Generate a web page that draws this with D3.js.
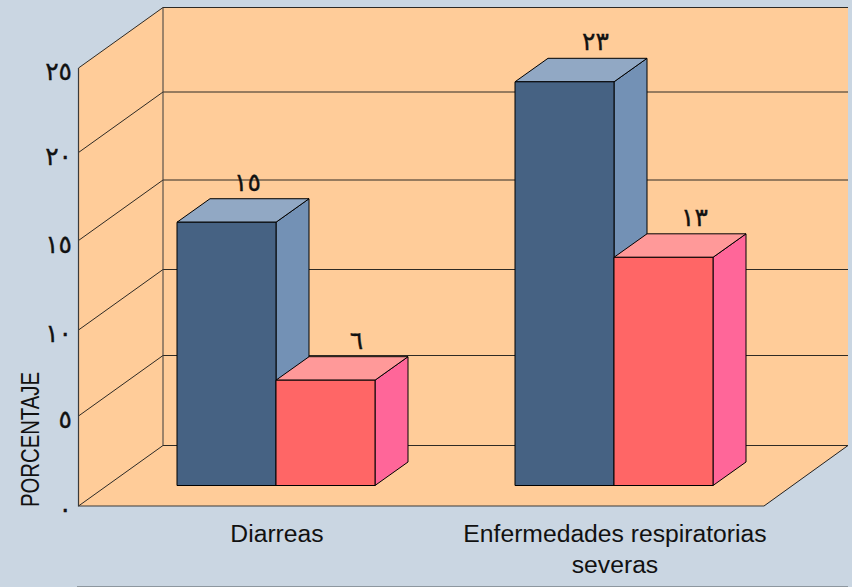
<!DOCTYPE html>
<meta charset="utf-8">
<head>
<style>
html, body { margin: 0; padding: 0; background: #cad6e2; }
svg { display: block; }
text { fill: #111; }
.cat { font-family: "Liberation Sans", sans-serif; font-size: 24.7px; }
.num { font-family: "DejaVu Sans", sans-serif; font-size: 25px; stroke: #111; stroke-width: 0.35px; }
</style>
</head>
<body>
<svg width="852" height="587"></svg>

<script src="https://d3js.org/d3.v7.min.js"></script>
<script>
var categories = ["Diarreas", "Enfermedades respiratorias"];
var categoryLines = [["Diarreas"], ["Enfermedades respiratorias", "severas"]];
var seriesNames = ["a", "b"];
var seriesA = [15, 23];
var seriesB = [6, 13];
var tickValues = [0, 5, 10, 15, 20, 25];
var tickLabels = ["٠", "٥", "١٠", "١٥", "٢٠", "٢٥"];
var valueLabels = [["١٥", "٦"], ["٢٣", "١٣"]];
var yTitle = "PORCENTAJE";

var svg = d3.select("svg");

var left = 78.5, right = 764, floorY = 506,
    depthX = 84.5, depthY = -60.5,       // floor depth of the box
    barDepthX = 33, barDepthY = -23.5,   // depth of one bar
    barInsetY = -20.5;                   // bar front sits a bit behind the front edge

// bars are on a straight scale
var y = d3.scaleLinear().domain([0, 25]).range([floorY, 67.2]);
// the gridlines in the picture are not quite evenly spaced
var gridY = d3.scaleLinear().domain(tickValues).range([506, 416, 330, 240.5, 152.5, 68]);

var x0 = d3.scaleBand().domain(categories).range([107, 783]);
var x1 = d3.scaleBand().domain(seriesNames).range([-99, 99]);

var line = d3.line();
function poly(g, pts, fill, stroke, w) {
  return g.append("path")
    .attr("d", line(pts) + "Z")
    .attr("fill", fill)
    .attr("stroke", stroke || "none")
    .attr("stroke-width", w || 1);
}

// walls and floor
var box = svg.append("g");
var wallFill = "#ffcc99";
poly(box, [[left + depthX, gridY(25) + depthY], [848, gridY(25) + depthY], [848, floorY + depthY], [left + depthX, floorY + depthY]], wallFill);
poly(box, [[left, gridY(25)], [left + depthX, gridY(25) + depthY], [left + depthX, floorY + depthY], [left, floorY]], wallFill);
poly(box, [[left, floorY], [left + depthX, floorY + depthY], [848, floorY + depthY], [right, floorY]], wallFill);

// gridlines
box.selectAll(".grid").data(tickValues).enter().append("path")
    .attr("class", "grid")
    .attr("fill", "none")
    .attr("stroke", "#2e2a24")
    .attr("stroke-width", 1)
    .attr("d", function(d) {
      return line([[left, gridY(d)], [left + depthX, gridY(d) + depthY], [848, gridY(d) + depthY]]);
    });

box.append("path").attr("fill", "none").attr("stroke", "#3a3a3a").attr("stroke-width", 1.2)
    .attr("d", line([[left, gridY(25)], [left, floorY], [right, floorY]]));
box.append("path").attr("fill", "none").attr("stroke", "#222").attr("stroke-width", 1)
    .attr("d", line([[right, floorY], [848, floorY + depthY]]));
box.append("path").attr("fill", "none").attr("stroke", "#3a3a3a").attr("stroke-width", 1)
    .attr("d", line([[left + depthX, gridY(25) + depthY], [left + depthX, floorY + depthY]]));

// bars, back series drawn first
function drawBar(cat, name, value, cols) {
  var g = svg.append("g");
  var xa = x0(cat) + x0.bandwidth() / 2 + x1(name),
      xb = xa + x1.bandwidth(),
      base = floorY + barInsetY,
      top = y(value) + barInsetY;
  poly(g, [[xb, base], [xb + barDepthX, base + barDepthY], [xb + barDepthX, top + barDepthY], [xb, top]], cols[1], "#000");
  poly(g, [[xa, top], [xa + barDepthX, top + barDepthY], [xb + barDepthX, top + barDepthY], [xb, top]], cols[2], "#000");
  poly(g, [[xa, base], [xb, base], [xb, top], [xa, top]], cols[0], "#000");
}
var blues = ["#466283", "#7391b5", "#91a8c4"],
    reds = ["#ff6666", "#ff6699", "#ff9999"];
categories.forEach(function(c, i) {
  drawBar(c, "a", seriesA[i], blues);
  drawBar(c, "b", seriesB[i], reds);
});

// value labels
categories.forEach(function(c, i) {
  [seriesA[i], seriesB[i]].forEach(function(v, j) {
    var cx = x0(c) + x0.bandwidth() / 2 + x1(seriesNames[j]) + x1.bandwidth() / 2 + 31;
    if (i == 0 && j == 0) cx -= 10; // the first label sits further left in the picture
    svg.append("text")
      .attr("class", "num")
      .attr("text-anchor", "middle")
      .attr("x", cx)
      .attr("y", y(v) + barInsetY + barDepthY - 8)
      .text(valueLabels[i][j]);
  });
});

// tick labels
svg.selectAll(".tick").data(tickValues).enter().append("text")
    .attr("class", "num tick")
    .attr("text-anchor", "end")
    .attr("x", 72)
    .attr("y", function(d) { return gridY(d) + 12; })
    .text(function(d, i) { return tickLabels[i]; });

// category labels
categoryLines.forEach(function(lines, i) {
  var cx = x0(categories[i]) + x0.bandwidth() / 2 + 1;
  lines.forEach(function(s, j) {
    svg.append("text")
      .attr("class", "cat")
      .attr("text-anchor", "middle")
      .attr("x", cx)
      .attr("y", 542 + j * 31)
      .text(s);
  });
});

svg.append("text")
    .attr("class", "cat")
    .attr("text-anchor", "middle")
    .attr("transform", "translate(38.5,439.5) rotate(-90)")
    .attr("textLength", 135)
    .attr("lengthAdjust", "spacingAndGlyphs")
    .style("font-size", "25px")
    .text(yTitle);

// rule along the bottom of the slide
svg.append("path").attr("fill", "none").attr("stroke", "#8d979f").attr("stroke-width", 1)
    .attr("d", line([[77, 586.5], [848, 586.5]]));
</script>
</body>
